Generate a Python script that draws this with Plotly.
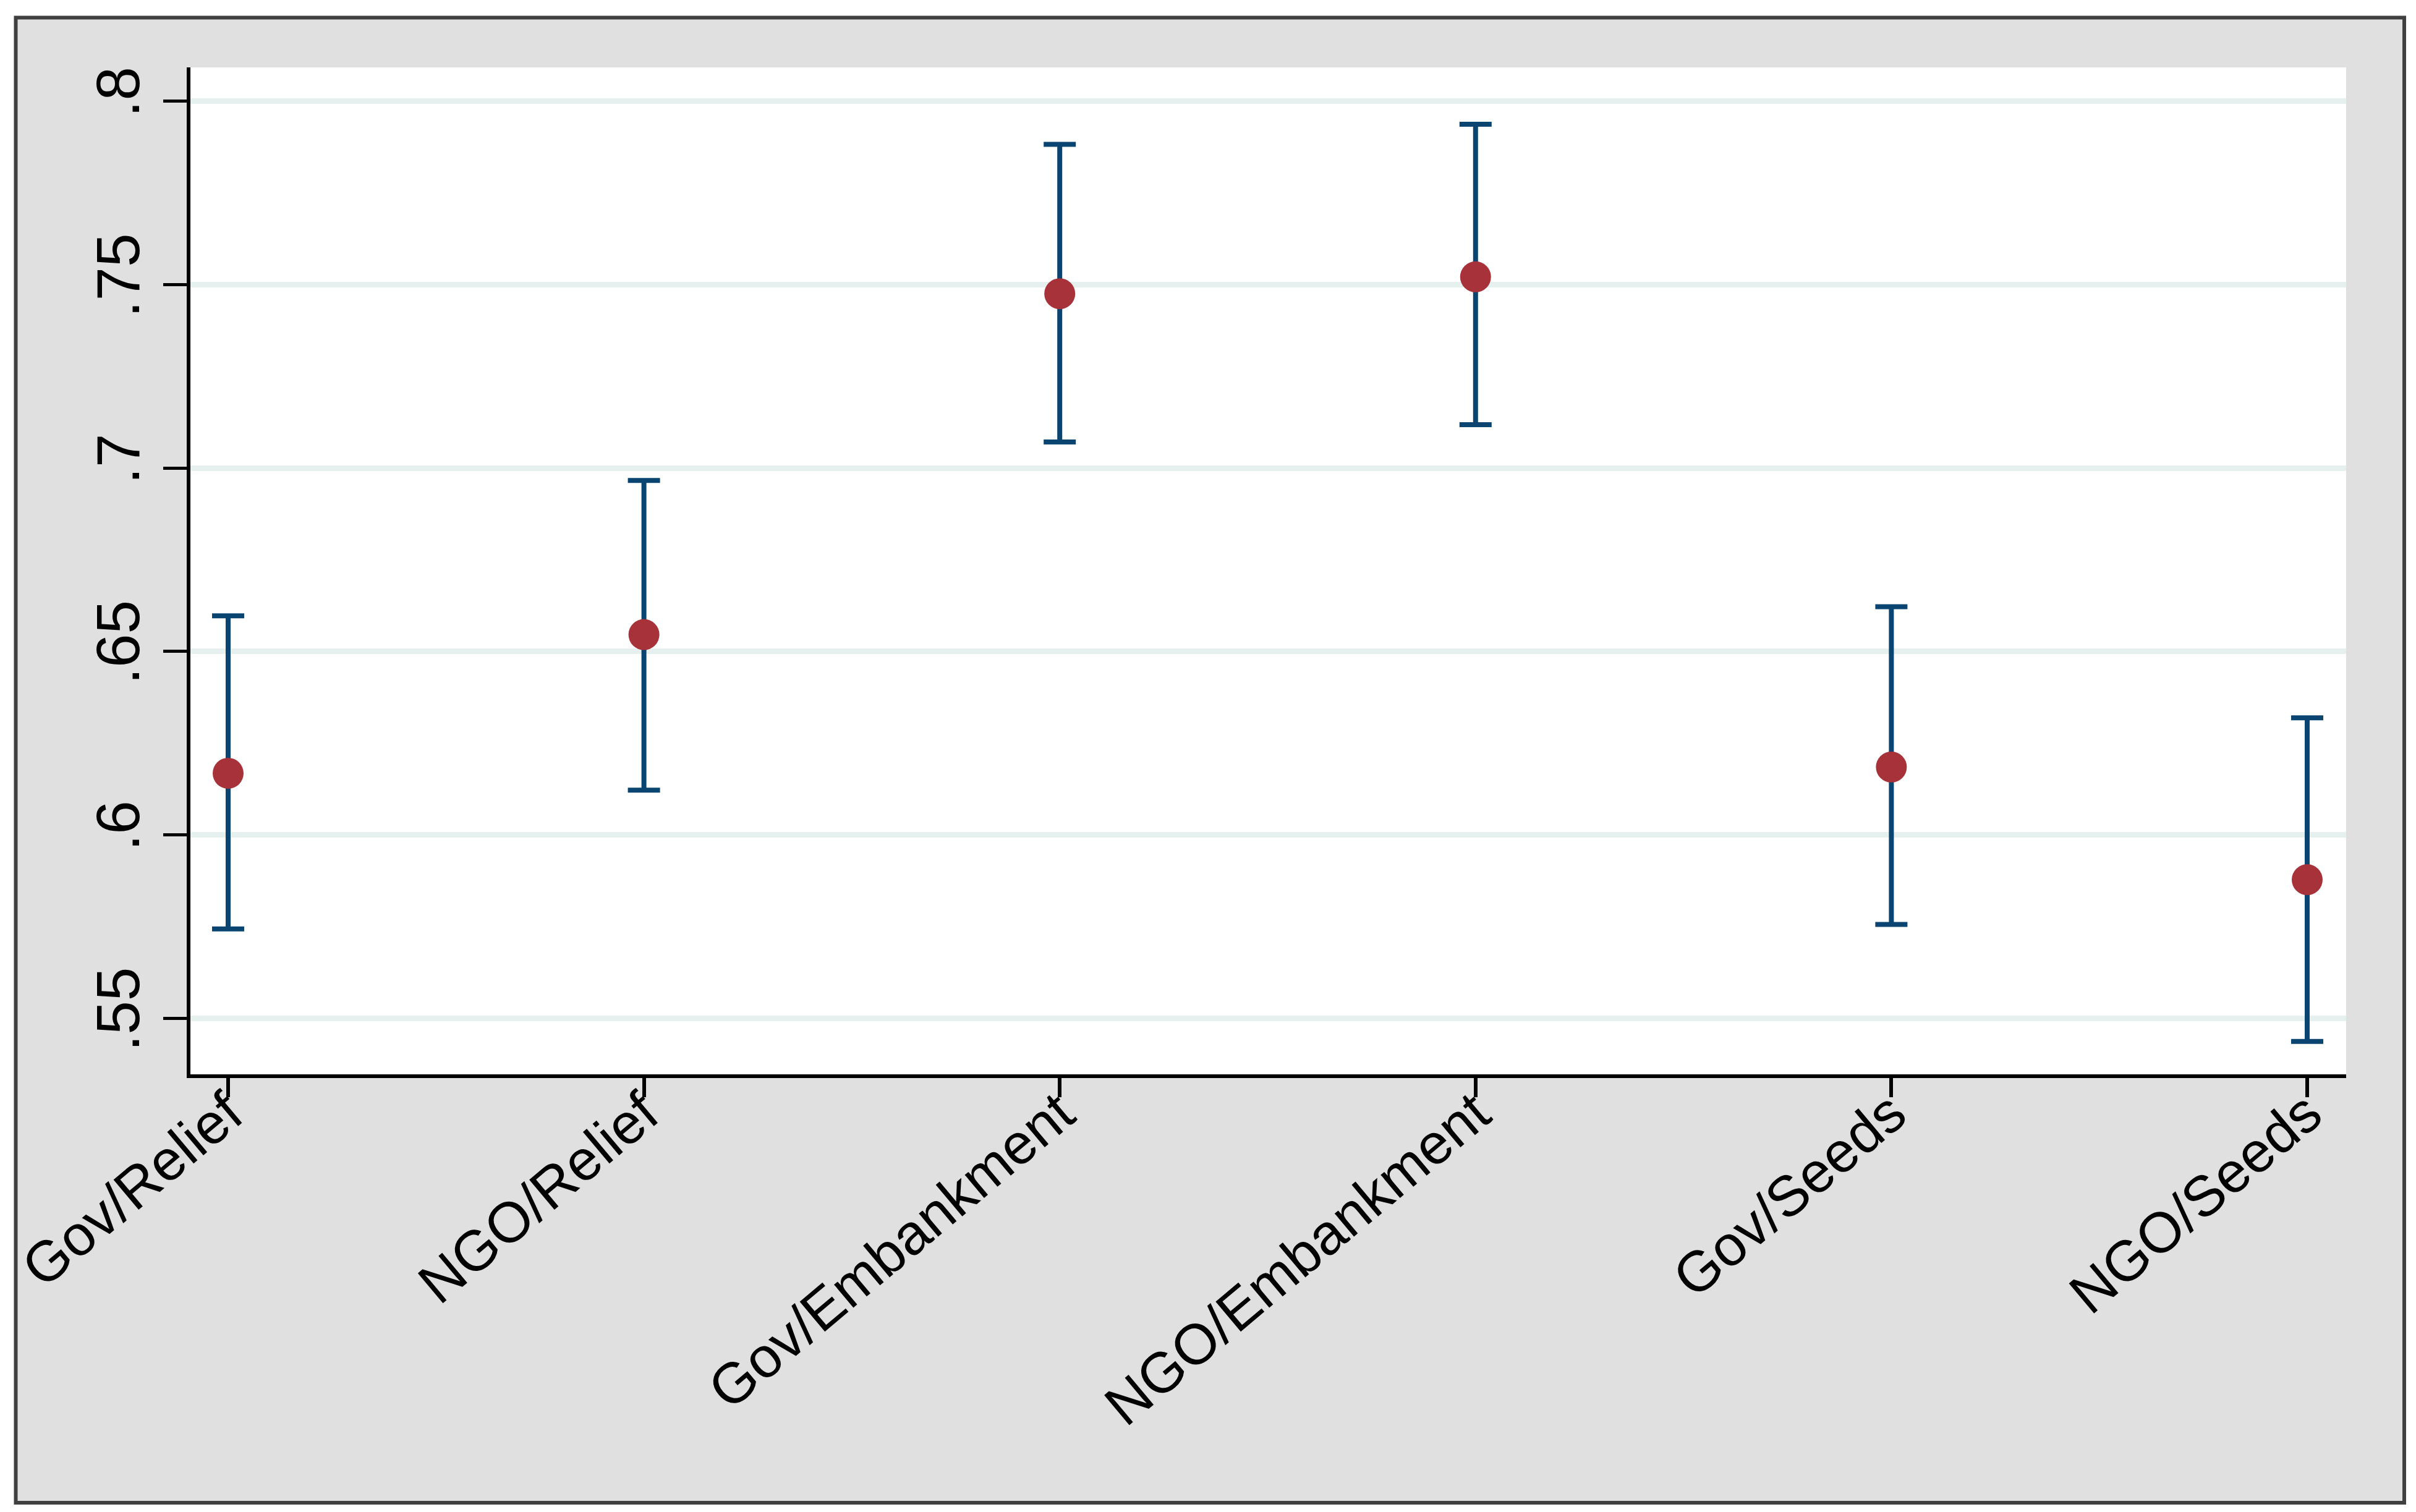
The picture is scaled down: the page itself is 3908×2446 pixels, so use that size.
import plotly.graph_objects as go

categories = ["Gov/Relief", "NGO/Relief", "Gov/Embankment", "NGO/Embankment", "Gov/Seeds", "NGO/Seeds"]
estimates = [0.6168, 0.6546, 0.7475, 0.7521, 0.6185, 0.5878]
upper_ci = [0.6597, 0.6966, 0.7882, 0.7937, 0.6622, 0.6319]
lower_ci = [0.5744, 0.6122, 0.7071, 0.7118, 0.5756, 0.5437]
y_tickvals = [0.55, 0.6, 0.65, 0.7, 0.75, 0.8]
y_ticktext = [".55", ".6", ".65", ".7", ".75", ".8"]

x_pos = list(range(1, len(categories) + 1))
err_plus = [u - e for u, e in zip(upper_ci, estimates)]
err_minus = [e - l for e, l in zip(estimates, lower_ci)]

W, H = 3908, 2446
L, R, T, B = 300, 3787, 101, 1730
pw, ph = R - L, B - T

fig = go.Figure()
fig.add_trace(go.Scatter(
    x=x_pos, y=estimates, mode="markers",
    marker=dict(size=50, color="#a8323a", line=dict(width=0)),
    error_y=dict(type="data", symmetric=False, array=err_plus, arrayminus=err_minus,
                 color="#0a4470", thickness=8, width=26),
    showlegend=False, hoverinfo="skip",
))

# outer graph region frame
fx0, fy0, fx1, fy1 = 17.5, 20.5, 3881, 2423
fig.add_shape(type="rect", xref="paper", yref="paper",
              x0=(fx0 - L) / pw, x1=(fx1 - L) / pw,
              y0=(B - fy1) / ph, y1=(B - fy0) / ph,
              fillcolor="#e0e0e0", line=dict(color="#404040", width=6), layer="below")
# plot region (white)
fig.add_shape(type="rect", xref="paper", yref="paper", x0=0, x1=1, y0=0, y1=1,
              fillcolor="white", line=dict(width=0), layer="below")

family = "Liberation Sans, Arial, Helvetica, sans-serif"
yfont = dict(family=family, size=98, color="black")
xfont = dict(family=family, size=92, color="black")

fig.update_layout(
    width=W, height=H, autosize=False,
    margin=dict(l=L, r=W - R, t=T, b=H - B, pad=0, autoexpand=False),
    paper_bgcolor="white", plot_bgcolor="white",
    font=yfont,
)
fig.update_xaxes(
    range=[0.9093, 6.0937], tickmode="array", tickvals=x_pos, ticktext=categories,
    tickangle=-40, ticks="outside", ticklen=31, tickwidth=6, tickcolor="black",
    showline=True, linecolor="black", linewidth=6, showgrid=False, zeroline=False,
    tickfont=xfont, automargin=False, ticklabelstandoff=-64, ticklabeloverflow="allow",
)
fig.update_yaxes(
    range=[0.53475, 0.80918], tickmode="array", tickvals=y_tickvals, ticktext=y_ticktext,
    tickangle=-90, ticks="outside", ticklen=38, tickwidth=5, tickcolor="black",
    showline=True, linecolor="black", linewidth=6, showgrid=True,
    gridcolor="#e5f0ef", gridwidth=9, zeroline=False, tickfont=yfont, automargin=False,
)
fig.write_html("out.html")
